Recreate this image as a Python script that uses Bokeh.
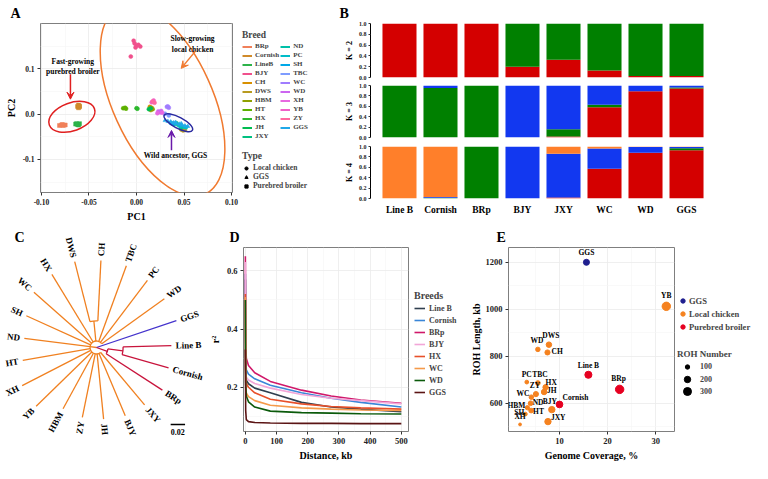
import numpy as np
from bokeh.plotting import figure
from bokeh.models import (Range1d, Legend, LegendItem, Arrow, VeeHead,
                          FixedTicker, NumeralTickFormatter, ColumnDataSource)
from bokeh.layouts import row, column
from bokeh.embed import file_html
from bokeh.resources import INLINE
from bokeh.core.properties import value

FONT = "Liberation Serif"

# ---------------- A: PCA data ----------------
breeds = ["BRp", "Cornish", "LineB", "BJY", "CH", "DWS", "HBM", "HT", "HX", "JH", "JXY",
          "ND", "PC", "SH", "TBC", "WC", "WD", "XH", "YB", "ZY", "GGS"]
breed_colors = ["#F0805A", "#D08A2A", "#2DB34A", "#F0508C", "#D89000", "#B89A20", "#8FA000",
                "#5DB000", "#2DB82D", "#00BC50", "#00C080", "#00C0A8", "#00BCC8", "#00A8E8",
                "#7E9CFF", "#A07CFF", "#CC66F0", "#E868E0", "#F060C8", "#FF68A0", "#20A8E8"]
broiler_breeds = ["BRp", "Cornish", "LineB"]
pca_types = ["Local chicken", "GGS", "Purebred broiler"]
pca_breed = (["BRp"] * 5 + ["Cornish"] * 5 + ["LineB"] * 5 + ["BJY"] * 7 + ["HT"] * 3 +
             ["HX"] * 2 + ["JH"] * 2 + ["CH"] * 2 + ["DWS"] * 3 + ["HBM"] * 2 + ["ZY"] * 2 +
             ["YB"] * 2 + ["WD"] * 3 + ["XH"] * 2 + ["WC"] * 3 + ["TBC"] * 2 + ["ND"] * 2 +
             ["PC"] * 3 + ["SH"] * 2 + ["JXY"] * 2 + ["GGS"] * 11)
pca_pc1 = [-0.081, -0.079, -0.077, -0.075, -0.078,
           -0.062, -0.061, -0.060, -0.061, -0.060,
           -0.064, -0.062, -0.060, -0.061, -0.063,
           -0.003, -0.002, 0.000, -0.001, 0.002, 0.004, -0.006,
           -0.014, -0.012, -0.011,
           0.000, 0.001,
           0.013, 0.015,
           0.016, 0.014,
           0.047, 0.049, 0.051,
           0.015, 0.017,
           0.017, 0.019,
           0.018, 0.016,
           0.023, 0.025, 0.026,
           0.022, 0.027,
           0.032, 0.034, 0.033,
           0.030, 0.034,
           0.040, 0.044,
           0.046, 0.050, 0.052,
           0.036, 0.038,
           0.042, 0.047,
           0.030, 0.033, 0.036, 0.039, 0.042, 0.045, 0.048, 0.051, 0.054, 0.041, 0.047]
pca_pc2 = [-0.025, -0.024, -0.025, -0.024, -0.023,
           0.017, 0.020, 0.016, 0.014, 0.018,
           -0.022, -0.023, -0.021, -0.024, -0.021,
           0.162, 0.156, 0.151, 0.147, 0.153, 0.149, 0.127,
           0.013, 0.014, 0.012,
           0.013, 0.012,
           0.011, 0.013,
           0.014, 0.016,
           -0.034, -0.036, -0.035,
           0.009, 0.011,
           0.028, 0.025,
           0.030, 0.026,
           0.006, 0.004, 0.007,
           0.002, 0.003,
           0.016, 0.014, 0.017,
           0.001, -0.003,
           -0.022, -0.024,
           -0.026, -0.028, -0.029,
           -0.019, -0.021,
           -0.020, -0.030,
           -0.014, -0.016, -0.017, -0.019, -0.021, -0.022, -0.024, -0.026, -0.027, -0.018, -0.021]

# ---------------- B: admixture data ----------------
admix_pops = ["Line B", "Cornish", "BRp", "BJY", "JXY", "WC", "WD", "GGS"]
k2_red = [1.00, 1.00, 1.00, 0.20, 0.33, 0.13, 0.03, 0.03]
k2_green = [0.00, 0.00, 0.00, 0.80, 0.67, 0.87, 0.97, 0.97]
k3_red = [0.00, 0.00, 0.00, 0.00, 0.02, 0.58, 0.89, 0.94]
k3_green = [1.00, 0.95, 1.00, 0.00, 0.14, 0.05, 0.00, 0.02]
k3_blue = [0.00, 0.05, 0.00, 1.00, 0.84, 0.37, 0.11, 0.04]
k4_red = [0.00, 0.00, 0.00, 0.00, 0.02, 0.57, 0.88, 0.93]
k4_green = [0.00, 0.015, 1.00, 0.00, 0.00, 0.00, 0.00, 0.035]
k4_blue = [0.00, 0.015, 0.00, 1.00, 0.84, 0.39, 0.11, 0.025]
k4_orange = [1.00, 0.97, 0.00, 0.00, 0.14, 0.04, 0.01, 0.01]

# ---------------- C: tree data ----------------
tree_leaves = ["BRp", "Cornish", "Line B", "GGS", "WD", "PC", "TBC", "CH", "DWS", "HX", "WC",
               "SH", "ND", "HT", "XH", "YB", "HBM", "ZY", "JH", "BJY", "JXY"]
tree_tip = [0.109, 0.104, 0.104, 0.117, 0.116, 0.117, 0.121, 0.121, 0.123, 0.119, 0.116,
            0.107, 0.101, 0.104, 0.116, 0.117, 0.097, 0.099, 0.100, 0.103, 0.104]
tree_group = ["broiler", "broiler", "broiler", "wild"] + ["local"] * 17
tree_nodes = [("CH_DWS", 0.037, ["CH", "DWS"], "local"),
              ("LB_Cor", 0.037, ["Line B", "Cornish"], "broiler"),
              ("Broiler", 0.016, ["LB_Cor", "BRp"], "broiler"),
              ("Local", 0.009, ["WD", "PC", "TBC", "CH_DWS", "HX", "WC", "SH", "ND", "HT",
                                "XH", "YB", "HBM", "ZY", "JH", "BJY", "JXY"], "local"),
              ("Root", 0.0, ["Local", "GGS", "Broiler"], "local")]
tree_scale_bar = 0.02

# ---------------- D: LD decay data ----------------
ld_dist = [0, 1, 3, 10, 30, 80, 180, 275, 370, 500]
ld_breeds = ["Line B", "Cornish", "BRp", "BJY", "HX", "WC", "WD", "GGS"]
ld_LineB = [0.57, 0.26, 0.224, 0.212, 0.197, 0.181, 0.148, 0.132, 0.125, 0.116]
ld_Cornish = [0.59, 0.31, 0.26, 0.245, 0.229, 0.207, 0.181, 0.162, 0.148, 0.132]
ld_BRp = [0.65, 0.36, 0.30, 0.275, 0.25, 0.22, 0.19, 0.17, 0.156, 0.145]
ld_BJY = [0.63, 0.27, 0.234, 0.225, 0.213, 0.197, 0.175, 0.162, 0.154, 0.143]
ld_HX = [0.52, 0.25, 0.213, 0.20, 0.181, 0.159, 0.143, 0.134, 0.129, 0.125]
ld_WC = [0.51, 0.22, 0.181, 0.168, 0.154, 0.138, 0.129, 0.125, 0.122, 0.120]
ld_WD = [0.50, 0.21, 0.170, 0.150, 0.132, 0.118, 0.113, 0.111, 0.109, 0.108]
ld_GGS = [0.33, 0.12, 0.089, 0.082, 0.079, 0.077, 0.076, 0.076, 0.075, 0.075]

# ---------------- E: ROH data ----------------
roh_breeds = ["GGS", "YB", "DWS", "WD", "CH", "Line B", "BRp", "PC", "TBC", "HX", "ZY", "JH",
              "WC", "Cornish", "ND", "BJY", "HBM", "HT", "SH", "JXY", "XH"]
roh_coverage = [15.6, 32.2, 7.8, 5.5, 7.5, 16.0, 22.5, 3.2, 5.5, 7.1, 5.1, 6.8,
                4.15, 10.0, 4.0, 8.4, 3.33, 4.1, 2.9, 7.6, 1.8]
roh_length = [1199, 1012, 849, 829, 816, 721, 659, 690, 686, 668, 639, 648,
              626, 595, 600, 573, 581, 569, 554, 522, 510]
roh_number = [180, 350, 150, 100, 130, 250, 350, 70, 110, 140, 130, 150,
              100, 220, 110, 200, 90, 110, 70, 200, 40]
roh_type = ["GGS", "Local chicken", "Local chicken", "Local chicken", "Local chicken",
            "Purebred broiler", "Purebred broiler", "Local chicken", "Local chicken",
            "Local chicken", "Local chicken", "Local chicken", "Local chicken",
            "Purebred broiler", "Local chicken", "Local chicken", "Local chicken",
            "Local chicken", "Local chicken", "Local chicken", "Local chicken"]
roh_legend_numbers = [100, 200, 300]


# ================= helpers =================
def style_axes(p, tick_px, label_px):
    for ax in p.axis:
        ax.major_label_text_font = FONT
        ax.major_label_text_font_style = "bold"
        ax.major_label_text_font_size = tick_px
        ax.major_label_text_color = "#222222"
        ax.axis_label_text_font = FONT
        ax.axis_label_text_font_style = "bold"
        ax.axis_label_text_font_size = label_px
        ax.axis_label_text_color = "black"
        ax.axis_line_color = None
        ax.major_tick_line_color = "#333333"
        ax.major_tick_out = 3
        ax.major_tick_in = 0
        ax.minor_tick_line_color = None
        ax.major_label_standoff = 2
        ax.axis_label_standoff = 3


def bw_theme(p):
    p.outline_line_color = "#7F7F7F"
    p.outline_line_width = 1
    p.grid.grid_line_color = "#EBEBEB"
    p.grid.grid_line_width = 0.8
    p.grid.minor_grid_line_color = "#F5F5F5"
    p.grid.minor_grid_line_width = 0.6


def style_legend(leg, label_px, glyph_w, glyph_h, spacing=1, title_px=None, standoff=3):
    leg.label_text_font = FONT
    leg.label_text_font_style = "bold"
    leg.label_text_font_size = label_px
    leg.title_text_font = FONT
    leg.title_text_font_style = "bold"
    leg.title_text_font_size = title_px or label_px
    leg.glyph_width = glyph_w
    leg.glyph_height = glyph_h
    leg.label_height = glyph_h
    leg.label_standoff = standoff
    leg.spacing = spacing
    leg.padding = 0
    leg.margin = 0
    leg.border_line_color = None
    leg.background_fill_alpha = 0
    leg.title_standoff = 2


def letter(p, txt, offset):
    p.title.text = txt
    p.title.align = "left"
    p.title.offset = offset
    p.title.text_font = FONT
    p.title.text_font_style = "bold"
    p.title.text_font_size = "14px"
    p.title.text_color = "black"
    p.title.standoff = 6


def blank_canvas(w, h, xr, yr):
    p = figure(width=w, height=h, x_range=xr, y_range=yr,
               x_axis_location=None, y_axis_location=None, output_backend="svg",
               toolbar_location=None, min_border_left=0, min_border_right=0,
               min_border_top=0, min_border_bottom=0, frame_align=False)
    p.outline_line_color = None
    p.grid.visible = False
    return p


# ================= Panel A =================
pa = figure(width=240, height=224, x_range=Range1d(-0.101, 0.101), y_range=Range1d(-0.173, 0.2),
            output_backend="svg", toolbar_location=None, min_border_left=40, min_border_right=8,
            min_border_top=22, min_border_bottom=22, frame_align=False)
bw_theme(pa)
pa.xaxis.ticker = FixedTicker(ticks=[-0.1, -0.05, 0, 0.05, 0.1], minor_ticks=[-0.075, -0.025, 0.025, 0.075])
pa.yaxis.ticker = FixedTicker(ticks=[-0.1, 0, 0.1], minor_ticks=[-0.15, -0.05, 0.05, 0.15])
pa.xaxis.formatter = NumeralTickFormatter(format="0.00")
pa.yaxis.formatter = NumeralTickFormatter(format="0.0")
pa.xaxis.axis_label = "PC1"
pa.yaxis.axis_label = "PC2"
style_axes(pa, "7.5px", "10px")

bcol = dict(zip(breeds, breed_colors))
for b in breeds:
    idx = [i for i, v in enumerate(pca_breed) if v == b]
    mk = "square" if b in broiler_breeds else ("triangle" if b == "GGS" else "circle")
    pa.scatter([pca_pc1[i] for i in idx], [pca_pc2[i] for i in idx], marker=mk, size=4,
               fill_color=bcol[b], line_color=bcol[b], line_width=0.5)

pa.ellipse(x=[-0.068], y=[-0.006], width=[48], height=[28], angle=[np.deg2rad(20)],
           width_units="screen", height_units="screen", fill_color=None,
           line_color="#E02020", line_width=1.5)
pa.ellipse(x=[0.0274], y=[0.0306], width=[206], height=[100], angle=[np.deg2rad(-65.6)],
           width_units="screen", height_units="screen", fill_color=None,
           line_color="#F07A30", line_width=1.5)
pa.ellipse(x=[0.044], y=[-0.019], width=[32], height=[11], angle=[np.deg2rad(-28)],
           width_units="screen", height_units="screen", fill_color=None,
           line_color="#2A2AA0", line_width=1.5)
for (x0, y0, x1, y1, c) in [(-0.0695, 0.088, -0.0695, 0.033, "#E02020"),
                             (0.062, 0.139, 0.047, 0.101, "#F07A30"),
                             (0.0368, -0.080, 0.0368, -0.036, "#6A1AAA")]:
    pa.add_layout(Arrow(end=VeeHead(size=7, fill_color=c, line_color=c), x_start=x0, y_start=y0,
                        x_end=x1, y_end=y1, line_color=c, line_width=1.5))
pa.text(x=[0.059, -0.067, 0.041], y=[0.155, 0.105, -0.092],
        text=["Slow-growing\nlocal chicken", "Fast-growing\npurebred broiler", "Wild ancestor, GGS"],
        text_font=value(FONT), text_font_style="bold", text_font_size="7.5px",
        text_align="center", text_baseline="middle", text_color="black")
letter(pa, "A", -30)

# legend canvas for A
pal = blank_canvas(98, 224, Range1d(0, 98), Range1d(0, 224))
breed_items = []
for b in breeds:
    r = pal.line(x=[-60, -50], y=[-60, -60], line_color=bcol[b], line_width=2)
    breed_items.append(LegendItem(label=b, renderers=[r]))
leg_b = Legend(items=breed_items, title="Breed", ncols=2, location=(2, 84))
style_legend(leg_b, "7px", 10, 7, spacing=1, title_px="9.5px")
pal.add_layout(leg_b)
type_items = []
for t, mk in zip(pca_types, ["circle", "triangle", "square"]):
    r = pal.scatter(x=[-60], y=[-60], marker=mk, fill_color="black", line_color="black")
    type_items.append(LegendItem(label=t, renderers=[r]))
leg_t = Legend(items=type_items, title="Type", location=(2, 34))
style_legend(leg_t, "7.5px", 8, 8, spacing=0, title_px="9.5px")
pal.add_layout(leg_t)

# ================= Panel B =================
B_RED, B_GREEN, B_BLUE, B_ORANGE = "#D40000", "#008000", "#1238F0", "#FF7F2A"


def admix_fig(comps, colors, klabel, height, top, bottom, show_x):
    p = figure(width=414, height=height, x_range=Range1d(-0.707, 7.707), y_range=Range1d(0, 1.0),
               output_backend="svg", toolbar_location=None, min_border_left=32,
               min_border_right=37, min_border_top=top, min_border_bottom=bottom,
               x_axis_location="below" if show_x else None, frame_align=False)
    p.outline_line_color = None
    p.grid.visible = False
    data = {"x": list(range(len(admix_pops)))}
    names = []
    for i, c in enumerate(comps):
        data["c%d" % i] = c
        names.append("c%d" % i)
    src = ColumnDataSource(data)
    p.vbar_stack(names, x="x", width=0.83, color=colors, source=src, line_color=None)
    p.yaxis.ticker = FixedTicker(ticks=[0, 0.2, 0.4, 0.6, 0.8, 1.0])
    p.yaxis.formatter = NumeralTickFormatter(format="0.0")
    p.yaxis.axis_label = klabel
    style_axes(p, "6px", "8px")
    p.yaxis.axis_line_color = "black"
    p.yaxis.major_tick_out = 2
    p.yaxis.axis_label_standoff = 2
    if show_x:
        p.xaxis.ticker = FixedTicker(ticks=list(range(len(admix_pops))))
        p.xaxis.major_label_overrides = {i: n for i, n in enumerate(admix_pops)}
        p.xaxis.major_tick_line_color = None
        p.xaxis.major_label_text_font_size = "9.5px"
        p.xaxis.major_label_text_color = "black"
        p.xaxis.major_label_standoff = 3
    return p


pb1 = admix_fig([k2_red, k2_green], [B_RED, B_GREEN], "K = 2", 80, 23, 3, False)
pb2 = admix_fig([k3_red, k3_green, k3_blue], [B_RED, B_GREEN, B_BLUE], "K = 3", 62, 5, 5, False)
pb3 = admix_fig([k4_red, k4_green, k4_blue, k4_orange], [B_RED, B_GREEN, B_BLUE, B_ORANGE],
                "K = 4", 82, 4, 26, True)
letter(pb1, "B", -31)

# ================= Panel C =================
PXU = 720.0
pc = blank_canvas(206, 239, Range1d(-96 / PXU, 110 / PXU), Range1d(-116 / PXU, 123 / PXU))
TREE_COL = {"local": "#F08020", "broiler": "#C8143C", "wild": "#4433CC"}
step = 360.0 / len(tree_leaves)
ang = {n: -32.9 + i * step for i, n in enumerate(tree_leaves)}
rad = dict(zip(tree_leaves, tree_tip))
grp = dict(zip(tree_leaves, tree_group))
for name, r, children, g in tree_nodes:
    ca = [ang[c] for c in children]
    ang[name] = (min(ca) + max(ca)) / 2.0
    rad[name] = r
    grp[name] = g
    if r > 0:
        pc.arc(x=0, y=0, radius=r, start_angle=np.deg2rad(min(ca)), end_angle=np.deg2rad(max(ca)),
               direction="anticlock", line_color=TREE_COL[g], line_width=1.3)
    for c in children:
        a = np.deg2rad(ang[c])
        pc.segment(x0=r * np.cos(a), y0=r * np.sin(a), x1=rad[c] * np.cos(a), y1=rad[c] * np.sin(a),
                   line_color=TREE_COL[grp[c]], line_width=1.3)
lx_r, ly_r, la_r, lt_r = [], [], [], []
lx_l, ly_l, la_l, lt_l = [], [], [], []
for n in tree_leaves:
    a = ang[n] % 360
    rr = rad[n] + 0.006
    x, y = rr * np.cos(np.deg2rad(a)), rr * np.sin(np.deg2rad(a))
    if 90 < a < 270:
        lx_l.append(x); ly_l.append(y); la_l.append(np.deg2rad(a - 180)); lt_l.append(n)
    else:
        lx_r.append(x); ly_r.append(y); la_r.append(np.deg2rad(a)); lt_r.append(n)
pc.text(x=lx_r, y=ly_r, text=lt_r, angle=la_r, text_font=value(FONT),
        text_font_style="bold", text_font_size="9px", text_align="left", text_baseline="middle")
pc.text(x=lx_l, y=ly_l, text=lt_l, angle=la_l, text_font=value(FONT),
        text_font_style="bold", text_font_size="9px", text_align="right", text_baseline="middle")
pc.segment(x0=[0.103], y0=[-0.107], x1=[0.103 + tree_scale_bar], y1=[-0.107], line_color="black",
           line_width=1.5)
pc.text(x=[0.103 + tree_scale_bar / 2], y=[-0.117], text=["%.2f" % tree_scale_bar],
        text_font=value(FONT), text_font_style="bold", text_font_size="8px",
        text_align="center", text_baseline="middle")
pc.text(x=[(19 - 96) / PXU], y=[(123 - 13) / PXU], text=["C"], text_font=value(FONT),
        text_font_style="bold", text_font_size="14px", text_align="center", text_baseline="middle")

# ================= Panel D =================
pd_ = figure(width=205, height=239, x_range=Range1d(-6, 523), y_range=Range1d(0.048, 0.68),
             output_backend="svg", toolbar_location=None, min_border_left=27,
             min_border_top=22, min_border_bottom=31, min_border_right=3, frame_align=False)
bw_theme(pd_)
pd_.xaxis.ticker = FixedTicker(ticks=[0, 100, 200, 300, 400, 500], minor_ticks=[50, 150, 250, 350, 450])
pd_.yaxis.ticker = FixedTicker(ticks=[0.2, 0.4, 0.6], minor_ticks=[0.1, 0.3, 0.5])
pd_.yaxis.formatter = NumeralTickFormatter(format="0.0")
pd_.xaxis.axis_label = "Distance, kb"
pd_.yaxis.axis_label = "r²"
style_axes(pd_, "8.5px", "10px")
ld_series = [ld_LineB, ld_Cornish, ld_BRp, ld_BJY, ld_HX, ld_WC, ld_WD, ld_GGS]
ld_colors = ["#2F3F4F", "#3A86D8", "#D0186A", "#F2A6D8", "#E8502A", "#F59A4A", "#0B5A0B", "#5B1414"]
for s, c in zip(ld_series, ld_colors):
    pd_.line(ld_dist, s, line_color=c, line_width=1.6)
letter(pd_, "D", -14)

pdl = blank_canvas(56, 239, Range1d(0, 56), Range1d(0, 239))
ld_items = []
for n, c in zip(ld_breeds, ld_colors):
    r = pdl.line(x=[-60, -50], y=[-60, -60], line_color=c, line_width=1.6)
    ld_items.append(LegendItem(label=n, renderers=[r]))
leg_d = Legend(items=ld_items, title="Breeds", location=(3, 66))
style_legend(leg_d, "8px", 11, 10, spacing=2, title_px="10px", standoff=4)
pdl.add_layout(leg_d)

# ================= Panel E =================
pe = figure(width=210, height=239, x_range=Range1d(-0.6, 33.9), y_range=Range1d(480, 1262),
            output_backend="svg", toolbar_location=None, min_border_left=33,
            min_border_right=3, min_border_top=22, min_border_bottom=31, frame_align=False)
bw_theme(pe)
pe.xaxis.ticker = FixedTicker(ticks=[10, 20, 30], minor_ticks=[5, 15, 25])
pe.yaxis.ticker = FixedTicker(ticks=[600, 800, 1000, 1200], minor_ticks=[500, 700, 900, 1100])
pe.xaxis.axis_label = "Genome Coverage, %"
pe.yaxis.axis_label = "ROH Length, kb"
style_axes(pe, "8.5px", "10px")
pe.yaxis.axis_label_standoff = 1
TYPE_COL = {"GGS": "#1F1F8F", "Local chicken": "#F5821F", "Purebred broiler": "#E60020"}
for t in ["Local chicken", "Purebred broiler", "GGS"]:
    idx = [i for i, v in enumerate(roh_type) if v == t]
    src = ColumnDataSource(dict(x=[roh_coverage[i] for i in idx], y=[roh_length[i] for i in idx],
                                s=[0.45 * np.sqrt(roh_number[i]) for i in idx]))
    pe.scatter("x", "y", size="s", source=src, fill_color=TYPE_COL[t], line_color=TYPE_COL[t])
lab_place = {"GGS": (0, -5, "center"), "YB": (0, -6, "center"), "DWS": (2, -5, "center"),
             "WD": (-1, -4, "center"), "CH": (4, -1, "left"), "Line B": (0, -5, "center"),
             "BRp": (-1, -6, "center"), "PC": (0, -3, "center"), "TBC": (2, -4, "center"),
             "HX": (0, -5, "left"), "ZY": (-1, -4, "center"), "JH": (3, -1, "left"),
             "WC": (-2, -4, "right"), "Cornish": (3, -7, "left"), "ND": (2, -1, "left"),
             "BJY": (-2, -4, "center"), "HBM": (-2, -2, "right"), "HT": (2, 1, "left"),
             "SH": (-1, -2, "right"), "JXY": (3, -4, "left"), "XH": (0, -3, "center")}
for al in ["left", "center", "right"]:
    idx = [i for i, n in enumerate(roh_breeds) if lab_place[n][2] == al]
    src = ColumnDataSource(dict(x=[roh_coverage[i] for i in idx], y=[roh_length[i] for i in idx],
                                t=[roh_breeds[i] for i in idx],
                                dx=[lab_place[roh_breeds[i]][0] for i in idx],
                                dy=[lab_place[roh_breeds[i]][1] for i in idx]))
    pe.text("x", "y", text="t", x_offset="dx", y_offset="dy", source=src, text_font=value(FONT),
            text_font_style="bold", text_font_size="7.5px", text_align=al,
            text_baseline="bottom" if al == "center" else "middle")
letter(pe, "E", -12)

pel = blank_canvas(75, 239, Range1d(0, 75), Range1d(0, 239))
type_items_e = []
for t in ["GGS", "Local chicken", "Purebred broiler"]:
    r = pel.scatter(x=[-60], y=[-60], marker="circle", fill_color=TYPE_COL[t], line_color=TYPE_COL[t])
    type_items_e.append(LegendItem(label=t, renderers=[r]))
leg_e = Legend(items=type_items_e, location=(0, 131))
style_legend(leg_e, "8.5px", 11, 11, spacing=2, standoff=1)
pel.add_layout(leg_e)
for k, (num, gh, yb) in enumerate(zip(roh_legend_numbers, [11, 16, 20], [91, 76, 62])):
    r = pel.scatter(x=[-60], y=[-60], marker="circle", fill_color="black", line_color="black")
    lg = Legend(items=[LegendItem(label=str(num), renderers=[r])], location=(0, yb))
    if k == 0:
        lg.title = "ROH Number"
    style_legend(lg, "8px", 20, gh, spacing=0, title_px="9px", standoff=3)
    pel.add_layout(lg)

layout = column(row(pa, pal, column(pb1, pb2, pb3)), row(pc, pd_, pdl, pe, pel))
open("out.html", "w").write(file_html(layout, INLINE))
